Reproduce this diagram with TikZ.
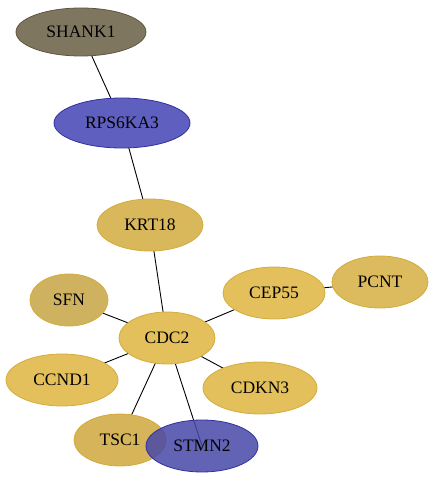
\documentclass[tikz,border=0pt]{standalone}
\usepackage{fontspec}
\setmainfont{Liberation Serif}
\usetikzlibrary{shapes.geometric,backgrounds}
\definecolor{gold}{HTML}{E3C05C}
\definecolor{goldb}{HTML}{D4AC3A}
\definecolor{olive}{HTML}{7F7660}
\definecolor{oliveb}{HTML}{5E5640}
\definecolor{blu}{HTML}{5F5FBF}
\definecolor{blub}{HTML}{3030A0}
\definecolor{krtc}{HTML}{D9B85C}
\definecolor{sfnc}{HTML}{CFB260}
\definecolor{pcntc}{HTML}{DBBB5E}
\definecolor{tscc}{HTML}{D6B45A}
\definecolor{stmc}{HTML}{4848A8}
\tikzset{
  gene/.style={ellipse, draw=goldb, line width=0.8pt, fill=gold, inner sep=0pt, font=\fontsize{17.5}{20}\selectfont},
  edge/.style={line width=0.9pt, black}
}
\begin{document}
\begin{tikzpicture}[x=1pt,y=1pt]
\useasboundingbox (0,0) rectangle (436,480);
\node[gene, fill=olive, draw=oliveb, minimum width=130, minimum height=48] (SHANK1) at (81,448) {SHANK1};
\node[gene, fill=blu, draw=blub, minimum width=136, minimum height=50] (RPS6KA3) at (122,357) {RPS6KA3};
\node[gene, fill=krtc, minimum width=106, minimum height=52] (KRT18) at (150,255) {KRT18};
\node[gene, fill=sfnc, minimum width=78, minimum height=52] (SFN) at (69,180) {SFN};
\node[gene, minimum width=102, minimum height=52] (CEP55) at (274,187) {CEP55};
\node[gene, fill=pcntc, minimum width=96, minimum height=52] (PCNT) at (380,198) {PCNT};
\node[gene, minimum width=96, minimum height=52] (CDC2) at (167,142) {CDC2};
\node[gene, minimum width=112, minimum height=52] (CCND1) at (62,100) {CCND1};
\node[gene, minimum width=114, minimum height=52] (CDKN3) at (260,92) {CDKN3};
\node[gene, fill=tscc, minimum width=92, minimum height=52] (TSC1) at (120,40) {TSC1};
\node[gene, fill=stmc, draw=blub, fill opacity=0.85, text opacity=1, minimum width=112, minimum height=52] (STMN2) at (202,34) {STMN2};
\begin{scope}[on background layer]
\draw[edge] (SHANK1.center) -- (RPS6KA3.center);
\draw[edge] (RPS6KA3.center) -- (KRT18.center);
\draw[edge] (KRT18.center) -- (CDC2.center);
\draw[edge] (SFN.center) -- (CDC2.center);
\draw[edge] (CEP55.center) -- (CDC2.center);
\draw[edge] (CEP55.center) -- (PCNT.center);
\draw[edge] (CCND1.center) -- (CDC2.center);
\draw[edge] (CDKN3.center) -- (CDC2.center);
\draw[edge] (TSC1.center) -- (CDC2.center);
\draw[edge] (STMN2.center) -- (CDC2.center);
\end{scope}
\end{tikzpicture}
\end{document}
